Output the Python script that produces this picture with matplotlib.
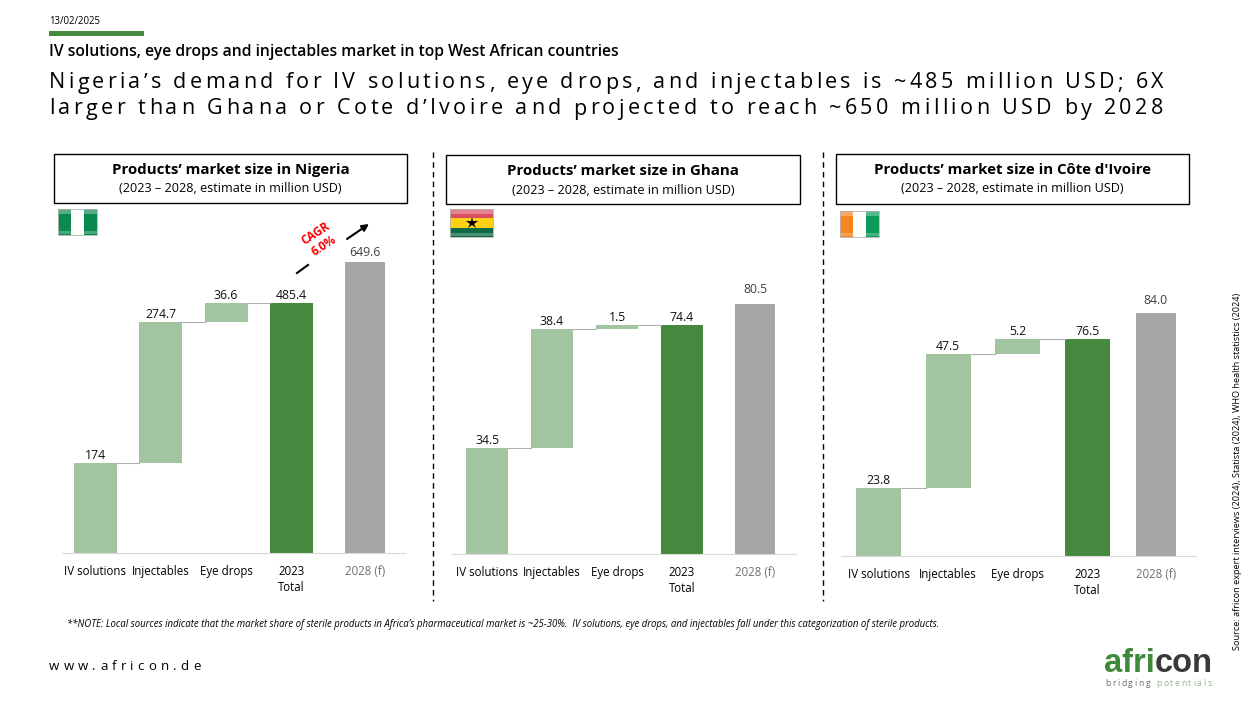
import matplotlib
matplotlib.use('Agg')
import matplotlib.pyplot as plt
from matplotlib.patches import Rectangle
from matplotlib.text import Text
from matplotlib.transforms import IdentityTransform

plt.rcParams['font.family'] = ['Open Sans', 'DejaVu Sans']

# Data
categories = ['IV solutions', 'Injectables', 'Eye drops', '2023\nTotal', '2028 (f)']
nigeria_steps = [174, 274.7, 36.6]
ghana_steps = [34.5, 38.4, 1.5]
ivoire_steps = [23.8, 47.5, 5.2]
nigeria_labels = ['174', '274.7', '36.6', '485.4', '649.6']
ghana_labels = ['34.5', '38.4', '1.5', '74.4', '80.5']
ivoire_labels = ['23.8', '47.5', '5.2', '76.5', '84.0']
nigeria_total = 485.4
ghana_total = 74.4
ivoire_total = 76.5
nigeria_2028 = 649.6
ghana_2028 = 80.5
ivoire_2028 = 84.0
header_titles = ['Products’ market size in Nigeria', 'Products’ market size in Ghana',
                 "Products’ market size in Côte d'Ivoire"]
header_sub = '(2023 – 2028, estimate in million USD)'

LIGHT = '#a3c4a0'
GREEN = '#47883f'
GREY = '#a6a6a6'
W, H = 1253, 705

fig = plt.figure(figsize=(W / 100, H / 100), dpi=100)
page = fig.add_axes([0, 0, 1, 1], zorder=5)
page.set_xlim(0, W)
page.set_ylim(H, 0)
page.axis('off')
page.patch.set_alpha(0)


class SpacedText(Text):
    # matplotlib has no letter spacing, so draw glyph by glyph but keep the whole string
    def __init__(self, x, y, s, extra=0, **kw):
        super().__init__(x, y, s, **kw)
        self.extra = extra

    def draw(self, renderer):
        s = self.get_text()
        px, py = self.get_transform().transform(self.get_position())
        for i, ch in enumerate(s):
            w = 0
            if i:
                w = renderer.get_text_width_height_descent(s[:i], self.get_fontproperties(), False)[0]
            t = Text(px + w + i * self.extra, py, ch, color=self.get_color(),
                     fontproperties=self.get_fontproperties(), va=self.get_va(), ha='left',
                     transform=IdentityTransform())
            t.set_figure(self.figure)
            t.draw(renderer)


def spaced(x, y, s, extra, size, color='black'):
    page.add_artist(SpacedText(x, y, s, extra=extra, fontsize=size, color=color, va='center',
                               transform=page.transData))


def panel(steps, total, f2028, labels, left, right, first_x, base, scale, scale_2028, gap, bar_w, gray_x, gray_gap):
    # one x unit = one waterfall step
    top = 210
    ax = fig.add_axes([left / W, 1 - base / H, (right - left) / W, (base - top) / H])
    ax.set_xlim((left - first_x) / gap, (right - first_x) / gap)
    ax.set_ylim(0, (base - top) / scale)
    ax.patch.set_alpha(0)
    for s in ['top', 'left', 'right']:
        ax.spines[s].set_visible(False)
    ax.spines['bottom'].set_color('#d9d9d9')
    w = bar_w / gap
    bottom = 0
    for i, v in enumerate(steps):
        ax.bar(i, v, width=w, bottom=bottom, color=LIGHT)
        bottom += v
        ax.plot([i + w / 2, i + 1 - w / 2], [bottom, bottom], color='#b0b0b0', lw=0.8)
        ax.text(i, bottom + 1 / scale, labels[i], ha='center', va='bottom', fontsize=8.8, color='#111111')
    ax.bar(3, total, width=w, color=GREEN)
    ax.text(3, total + 1 / scale, labels[3], ha='center', va='bottom', fontsize=8.8, color='#111111')
    ax.set_yticks([])
    ax.set_xticks([0, 1, 2, 3, gray_x], categories)
    ax.tick_params(axis='x', length=0, pad=8.5, labelsize=8.3)
    for lab in ax.get_xticklabels():
        lab.set_linespacing(1.3)
    ax.get_xticklabels()[4].set_color('#6f6f6f')

    # the 2028 bar sits on its own scale on the slide
    ax2 = ax.twinx()
    ax2.set_ylim(0, (base - top) / scale_2028)
    ax2.axis('off')
    ax2.bar(gray_x, f2028, width=40 / gap, color=GREY)
    ax2.text(gray_x, f2028 + gray_gap / scale_2028, labels[4], ha='center', va='bottom', fontsize=8.8, color='#404040')


panel(nigeria_steps, nigeria_total, nigeria_2028, nigeria_labels, 62, 405, 95, 553, 0.5152, 0.448, 65.5, 43, 4.12, 3)
panel(ghana_steps, ghana_total, ghana_2028, ghana_labels, 452, 796, 487, 554, 3.08, 3.1, 65, 42, 4.13, 8)
panel(ivoire_steps, ivoire_total, ivoire_2028, ivoire_labels, 841, 1196, 878.5, 556, 2.84, 2.89, 69.7, 45, 3.98, 6)

# slide header
page.text(49, 21, '13/02/2025', fontsize=6.9, va='center')
page.add_patch(Rectangle((49, 31), 95, 5, color=GREEN, lw=0))
page.text(49, 52, 'IV solutions, eye drops and injectables market in top West African countries',
          fontsize=11.3, fontweight='semibold', va='center')
spaced(49, 83, 'Nigeria’s demand for IV solutions, eye drops, and injectables is ~485 million USD; 6X', 3.27, 15.5)
spaced(49, 109, 'larger than Ghana or Cote d’Ivoire and projected to reach ~650 million USD by 2028', 3.43, 15.5)

# header boxes
for (x0, x1, y0, y1), title in zip([(54, 407, 154, 203), (446, 800, 155, 204), (836, 1189, 154, 204)], header_titles):
    page.add_patch(Rectangle((x0, y0), x1 - x0, y1 - y0, fc='white', ec='black', lw=1))
    page.text((x0 + x1) / 2, y0 + 16, title, ha='center', va='center', fontsize=10.8, fontweight='bold')
    page.text((x0 + x1) / 2, y0 + 35, header_sub, ha='center', va='center', fontsize=9.1)

# dashed separators
for x in [433, 823]:
    page.plot([x, x], [152, 601], color='black', lw=1, ls=(0, (4, 3)))

# flags
for x0, w, y0, h, cols, vertical in [(58, 39, 209, 26, ['#0b8a50', 'white', '#0b8a50'], True),
                                     (450, 43, 209, 28, ['#d8505f', '#fcd116', '#0f6b45'], False),
                                     (840, 39, 211, 26, ['#f7861e', 'white', '#0b9a58'], True)]:
    for i, c in enumerate(cols):
        if vertical:
            page.add_patch(Rectangle((x0 + i * w / 3, y0), w / 3, h, color=c, lw=0))
        else:
            page.add_patch(Rectangle((x0, y0 + i * h / 3), w, h / 3, color=c, lw=0))
    # glossy bands at the top and bottom of the flag icons
    page.add_patch(Rectangle((x0, y0 + 1), w, 4, color='white', alpha=0.3, lw=0))
    page.add_patch(Rectangle((x0, y0 + h - 4), w, 3, color='white', alpha=0.25, lw=0))
    page.add_patch(Rectangle((x0, y0), w, h, fc='none', ec='#b5b5b5', lw=0.6))
page.plot([471.5], [223], marker='*', ms=9, color='black', mew=0)

# CAGR marker on Nigeria
page.text(320, 240, 'CAGR\n6.0%', color='#ff0000', fontsize=8.4, fontweight='bold', rotation=33,
          ha='center', va='center', linespacing=1.15)
page.plot([297, 308], [273, 265], color='black', lw=1.5)
page.annotate('', xy=(369, 224), xytext=(347, 239),
              arrowprops=dict(arrowstyle='-|>', color='black', lw=1.5, shrinkA=0, shrinkB=0))

# footer
page.text(67, 624, '**NOTE: Local sources indicate that the market share of sterile products in Africa’s pharmaceutical '
          'market is ~25-30%.  IV solutions, eye drops, and injectables fall under this categorization of sterile products.',
          fontsize=6.9, style='italic', va='center')
spaced(49, 666, 'www.africon.de', 4.2, 9.5)
page.text(1238, 471, 'Source: africon expert interviews (2024), Statista (2024), WHO health statistics (2024)',
          rotation=90, fontsize=6.6, ha='center', va='center')

# logo
page.text(1155, 672, 'afri', family='Liberation Sans', fontweight='bold', fontsize=23.5, color='#3f8a3a', ha='right', va='baseline')
page.text(1155, 672, 'con', family='Liberation Sans', fontweight='bold', fontsize=23.5, color='#3a3a3a', ha='left', va='baseline')
spaced(1105, 684, 'bridging', 1.7, 6.2, '#6f6f6f')
spaced(1156, 684, 'potentials', 1.7, 6.2, '#8fb98c')

fig.savefig('out.png', dpi=100)
